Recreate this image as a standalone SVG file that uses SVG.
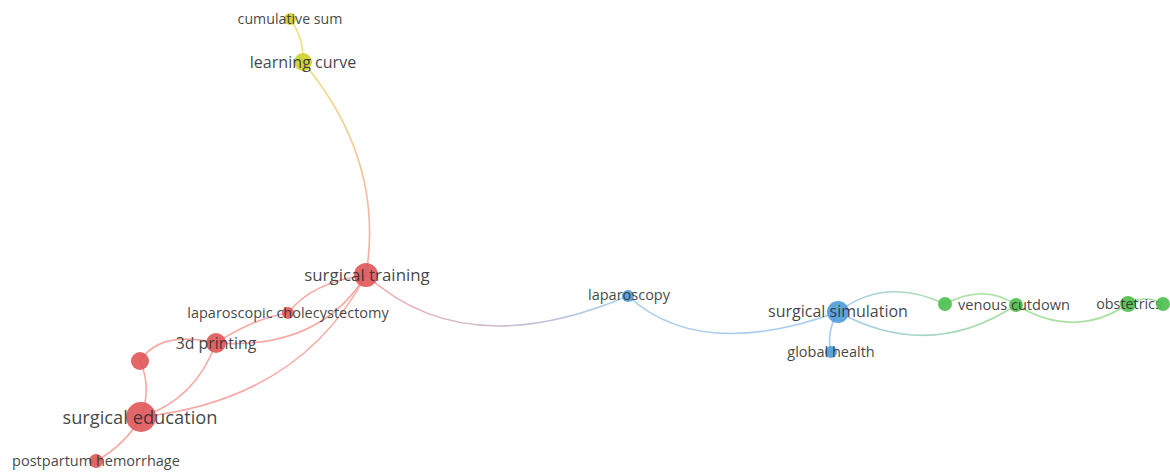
<svg xmlns="http://www.w3.org/2000/svg" width="1170" height="472" viewBox="0 0 1170 472">
<defs>
<style>
.e{fill:none;stroke-width:1.6;stroke-linecap:round}
.r{stroke:#f7aaa4}.b{stroke:#a8cdf0}.g{stroke:#a6e09e}.y{stroke:#ece17e}
.nr{fill:#e05558;fill-opacity:0.9}.nb{fill:#4f9ad8;fill-opacity:0.9}.ng{fill:#4cbf4c;fill-opacity:0.9}.ny{fill:#cfcf2e;fill-opacity:0.9}
text{font-family:"Open Sans","Noto Sans","Liberation Sans",sans-serif;fill:#333;fill-opacity:0.92;text-anchor:middle}
</style>
<linearGradient id="gyr" gradientUnits="userSpaceOnUse" x1="303" y1="62" x2="366" y2="275"><stop offset="0" stop-color="#ece17e"/><stop offset="1" stop-color="#f7aaa4"/></linearGradient>
<linearGradient id="grb" gradientUnits="userSpaceOnUse" x1="366" y1="275" x2="628" y2="296"><stop offset="0" stop-color="#f7aaa4"/><stop offset="1" stop-color="#a8cdf0"/></linearGradient>
<linearGradient id="gbg" gradientUnits="userSpaceOnUse" x1="838" y1="312" x2="1016" y2="305"><stop offset="0" stop-color="#a8cdf0"/><stop offset="1" stop-color="#a6e09e"/></linearGradient>
<linearGradient id="gbg2" gradientUnits="userSpaceOnUse" x1="838" y1="312" x2="945" y2="304"><stop offset="0" stop-color="#a8cdf0"/><stop offset="1" stop-color="#a6e09e"/></linearGradient>
</defs>
<rect width="1170" height="472" fill="#fff"/>
<g id="connectors">
<path class="e y" d="M290,19 Q304,38 303,62"/>
<path class="e" stroke="url(#gyr)" d="M303,62 Q385,160 366,275"/>
<path class="e" stroke="url(#grb)" d="M366,275 Q465,365 628,296"/>
<path class="e b" d="M628,296 Q700,362 838,312"/>
<path class="e b" d="M838,312 Q826,332 831,352"/>
<path class="e" stroke="url(#gbg2)" d="M838,312 Q885,276 945,304"/>
<path class="e" stroke="url(#gbg)" d="M838,312 Q930,362 1016,305"/>
<path class="e g" d="M945,304 Q985,283 1016,305"/>
<path class="e g" d="M1016,305 Q1075,340 1128,304"/>
<path class="e g" d="M1128,304 Q1146,294 1163,304"/>
<path class="e r" d="M366,275 Q312,282 288,313"/>
<path class="e r" d="M288,313 Q255,318 216,343"/>
<path class="e r" d="M366,275 Q320,350 216,343"/>
<path class="e r" d="M366,275 Q300,400 141,417"/>
<path class="e r" d="M216,343 Q195,400 141,417"/>
<path class="e r" d="M216,343 Q160,330 140,361"/>
<path class="e r" d="M140,361 Q152,388 141,417"/>
<path class="e r" d="M141,417 Q125,445 96,461"/>
</g>
<g id="n-cumulative-sum"><circle class="ny" cx="290" cy="19" r="6"/><text x="290" y="24" font-size="14.2">cumulative sum</text></g>
<g id="n-learning-curve"><circle class="ny" cx="303" cy="62" r="9"/><text x="303" y="68" font-size="16.1">learning curve</text></g>
<g id="n-surgical-training"><circle class="nr" cx="366" cy="275" r="12"/><text x="367" y="281" font-size="16.9">surgical training</text></g>
<g id="n-laparoscopic-cholecystectomy"><circle class="nr" cx="288" cy="313" r="6"/><text x="288" y="318" font-size="14.5">laparoscopic cholecystectomy</text></g>
<g id="n-3d-printing"><circle class="nr" cx="216" cy="343" r="10"/><text x="216" y="349" font-size="15.8">3d printing</text></g>
<g id="n-unlabeled"><circle class="nr" cx="140" cy="361" r="9"/></g>
<g id="n-surgical-education"><circle class="nr" cx="141" cy="417" r="15"/><text x="140" y="424" font-size="18.3">surgical education</text></g>
<g id="n-postpartum-hemorrhage"><circle class="nr" cx="96" cy="461" r="7"/><text x="96" y="466" font-size="14.5">postpartum hemorrhage</text></g>
<g id="n-laparoscopy"><circle class="nb" cx="628" cy="296" r="6"/><text x="629" y="300" font-size="14.5">laparoscopy</text></g>
<g id="n-surgical-simulation"><circle class="nb" cx="838" cy="312" r="11"/><text x="838" y="317" font-size="16">surgical simulation</text></g>
<g id="n-global-health"><circle class="nb" cx="831" cy="352" r="6"/><text x="831" y="357" font-size="14.5">global health</text></g>
<g id="n-green-1"><circle class="ng" cx="945" cy="304" r="7"/></g>
<g id="n-venous-cutdown"><circle class="ng" cx="1016" cy="305" r="7"/><text x="1014" y="310" font-size="14.6">venous cutdown</text></g>
<g id="n-obstetrics"><circle class="ng" cx="1128" cy="304" r="8"/><text x="1129" y="309" font-size="14.3">obstetrics</text></g>
<g id="n-green-2"><circle class="ng" cx="1163" cy="304" r="7"/></g>
</svg>
